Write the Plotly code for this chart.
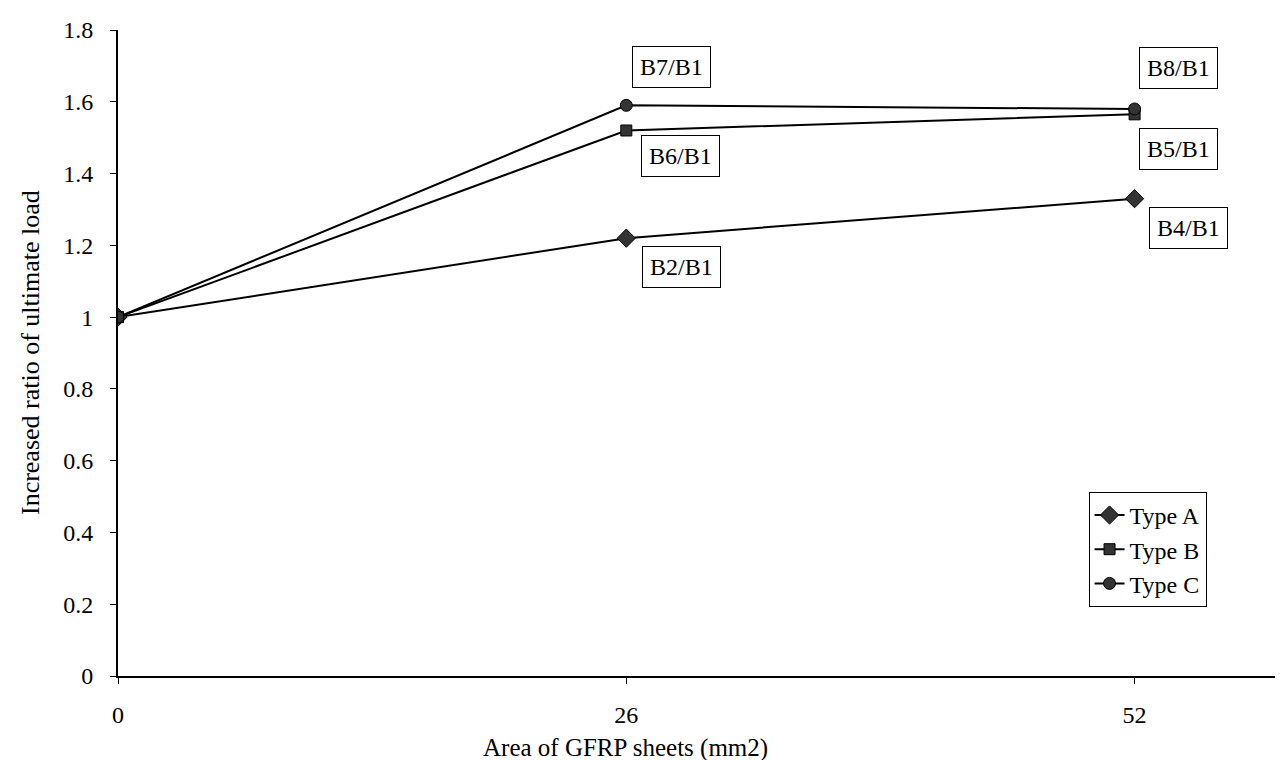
import plotly.graph_objects as go

# Data
area = [0, 26, 52]
type_a = [1.0, 1.22, 1.33]
type_b = [1.0, 1.52, 1.565]
type_c = [1.0, 1.59, 1.58]
series_names = ["Type A", "Type B", "Type C"]
x_ticks = [0, 26, 52]
y_ticks = [0, 0.2, 0.4, 0.6, 0.8, 1, 1.2, 1.4, 1.6, 1.8]
y_tick_text = ["0", "0.2", "0.4", "0.6", "0.8", "1", "1.2", "1.4", "1.6", "1.8"]

# label text, series index, point index, pixel offsets
labels = [
    ("B7/B1", 2, 1, 45, 38),
    ("B6/B1", 1, 1, 54, -26),
    ("B2/B1", 0, 1, 55, -29),
    ("B8/B1", 2, 2, 44, 41),
    ("B5/B1", 1, 2, 44, -35),
    ("B4/B1", 0, 2, 54, -29),
]

FONT = "Liberation Serif, serif"
series = [type_a, type_b, type_c]
symbols = ["diamond", "square", "circle"]
sizes = [14, 11, 12]

fig = go.Figure()
for name, ys, sym, sz in zip(series_names, series, symbols, sizes):
    fig.add_trace(go.Scatter(
        x=area, y=ys, name=name, mode="lines+markers",
        line=dict(color="black", width=2),
        marker=dict(symbol=sym, size=sz, color="#333333",
                    line=dict(color="black", width=1)),
    ))

annotations = []
for text, si, pi, dx, dy in labels:
    annotations.append(dict(
        x=area[pi], y=series[si][pi], xref="x", yref="y",
        text=text, showarrow=False, xshift=dx, yshift=dy,
        font=dict(family=FONT, size=24, color="black"),
        bordercolor="black", borderwidth=1, borderpad=7, bgcolor="white",
    ))

annotations.append(dict(
    text="Increased ratio of ultimate load", xref="paper", yref="paper",
    x=-0.075, y=0.5, xanchor="center", yanchor="middle",
    textangle=-90, showarrow=False,
    font=dict(family=FONT, size=26, color="black"),
))
annotations.append(dict(
    text="Area of GFRP sheets (mm2)", xref="paper", yref="paper",
    x=0.433, y=-0.111, xanchor="center", yanchor="middle", showarrow=False,
    font=dict(family=FONT, size=25, color="black"),
))

fig.update_layout(
    width=1283, height=760,
    margin=dict(l=110, r=0, t=22, b=92),
    paper_bgcolor="white", plot_bgcolor="white",
    font=dict(family=FONT, size=24, color="black"),
    showlegend=True,
    legend=dict(
        x=0.928, y=0.285, xanchor="right", yanchor="top",
        bordercolor="black", borderwidth=1, bgcolor="white",
        font=dict(family=FONT, size=24, color="black"),
        itemwidth=30, tracegroupgap=0,
    ),
    annotations=annotations,
)
fig.update_xaxes(
    range=[0, 60], tickvals=x_ticks, ticktext=[str(v) for v in x_ticks],
    showgrid=False, zeroline=False, showline=True, linecolor="black", linewidth=2,
    ticks="outside", ticklen=6, tickcolor="black", ticklabelstandoff=10,
    tickfont=dict(family=FONT, size=24, color="black"),
)
fig.update_yaxes(
    range=[0, 1.8], tickvals=y_ticks, ticktext=y_tick_text,
    showgrid=False, zeroline=False, showline=True, linecolor="black", linewidth=2,
    ticks="outside", ticklen=6, tickcolor="black", ticklabelstandoff=12,
    tickfont=dict(family=FONT, size=24, color="black"),
)

fig.write_html("out.html")
